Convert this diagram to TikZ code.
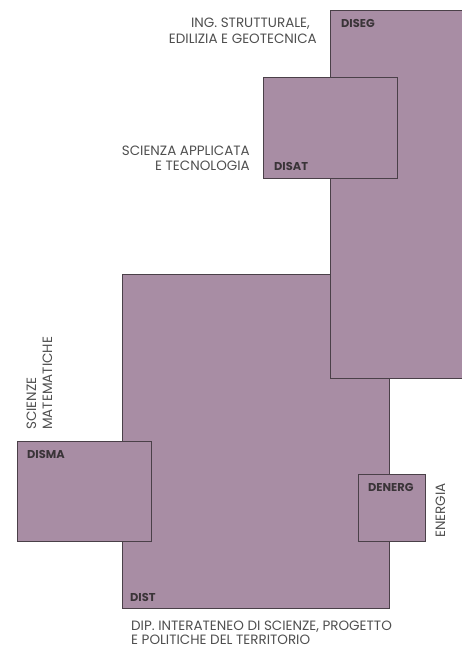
\documentclass[tikz,border=0pt]{standalone}
\usepackage{fontspec}
\setmainfont{Poppins}
\definecolor{boxfill}{HTML}{A88DA4}
\definecolor{boxline}{HTML}{4A4048}
\definecolor{desc}{HTML}{4F4F4F}
\definecolor{lab}{HTML}{3A3438}
\begin{document}
\begin{tikzpicture}[x=1pt,y=-1pt,
  box/.style={fill=boxfill,draw=boxline,line width=1pt},
  boxlabel/.style={font=\bfseries\fontsize{11.4}{13}\selectfont,text=lab,inner sep=0pt,anchor=base west},
  desctext/.style={font=\fontsize{13.5}{16}\selectfont,text=desc,inner sep=0pt}]
\useasboundingbox (0,0) rectangle (462,650);
\clip (0,0) rectangle (462,650);
% DIST
\draw[box] (122,274) rectangle (389,608);
% DISEG
\fill[boxfill] (330,11) rectangle (470,378);
\draw[boxline,line width=1pt] (470,11) -- (330,11) -- (330,378) -- (470,378);
% DISAT
\draw[box] (263,78) rectangle (397,178);
% DISMA
\draw[box] (17,441) rectangle (151,541);
% DENERG
\draw[box] (358,474) rectangle (425,541);
% labels
\node[boxlabel] (diseg) at (341,28) {DISEG};
\node[boxlabel] (disat) at (274,170) {DISAT};
\node[boxlabel] (disma) at (27,458) {DISMA};
\node[boxlabel] (denerg) at (368,491) {DENERG};
\node[boxlabel] (dist) at (130,601) {DIST};
% descriptions
\node[desctext,anchor=base east] (ing1) at (310,28) {ING. STRUTTURALE,};
\node[desctext,anchor=base east] (ing2) at (317,44) {EDILIZIA E GEOTECNICA};
\node[desctext,anchor=base east] (sci1) at (250,155) {SCIENZA APPLICATA};
\node[desctext,anchor=base east] (sci2) at (250,170) {E TECNOLOGIA};
\node[desctext,anchor=base west,rotate=90] (mat1) at (36,430) {SCIENZE};
\node[desctext,anchor=base west,rotate=90] (mat2) at (52,430) {MATEMATICHE};
\node[desctext,anchor=base west,rotate=90] (ene) at (445,538) {ENERGIA};
\node[desctext,anchor=base west] (dip1) at (131,630) {DIP. INTERATENEO DI SCIENZE, PROGETTO};
\node[desctext,anchor=base west] (dip2) at (131,644) {E POLITICHE DEL TERRITORIO};
\end{tikzpicture}
\end{document}
